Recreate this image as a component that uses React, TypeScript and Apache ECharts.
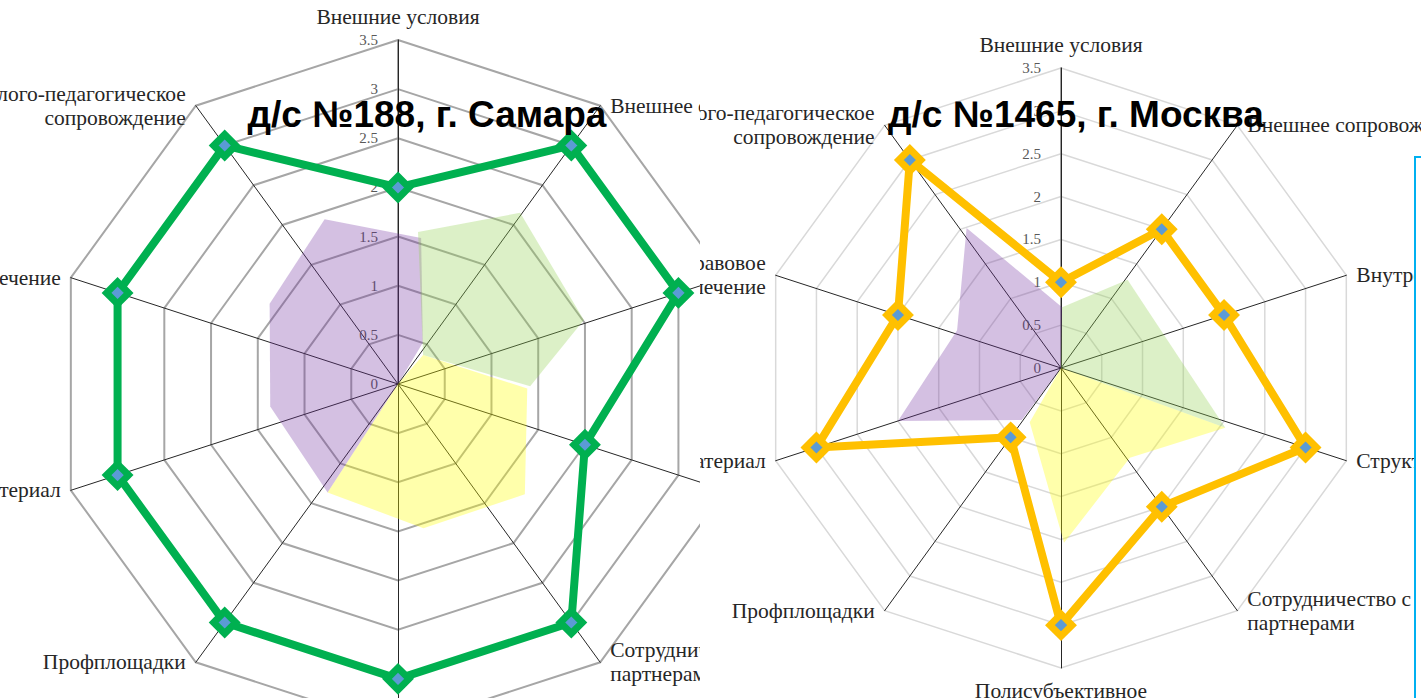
import React, { useEffect, useRef } from "react";
import * as echarts from "echarts";

// Categories listed clockwise starting from the top axis
const CATEGORIES = [
  "Внешние условия",
  "Внешнее сопровождение",
  "Внутренние условия",
  "Структура",
  "Сотрудничество с внешними партнерами",
  "Полисубъективное взаимодействие",
  "Профплощадки",
  "Методический материал",
  "Нормативно-правовое обеспечение",
  "Психолого-педагогическое сопровождение",
];

const LEFT_LABELS = [
  "Внешние условия",
  "Внешнее сопровождение",
  "Внутренние условия",
  "Структура",
  "Сотрудничество с внешними\nпартнерами",
  "Полисубъективное\nвзаимодействие",
  "Профплощадки",
  "Методический материал",
  "Нормативно-правовое обеспечение",
  "Психолого-педагогическое\nсопровождение",
];

const RIGHT_LABELS = [
  "Внешние условия",
  "Внешнее сопровождение",
  "Внутренние условия",
  "Структура",
  "Сотрудничество с внешними\nпартнерами",
  "Полисубъективное\nвзаимодействие",
  "Профплощадки",
  "Методический материал",
  "Нормативно-правовое\nобеспечение",
  "Психолого-педагогическое\nсопровождение",
];

const LEFT_VALUES = [2, 3, 3, 2, 3, 3, 3, 3, 3, 3];
const RIGHT_VALUES = [1, 2, 2, 3, 2, 3, 1, 3, 2, 3];

const AXIS_MIN = 0;
const AXIS_MAX = 3.5;
const AXIS_STEP = 0.5;

const LEFT_TITLE = "д/с №188, г. Самара";
const RIGHT_TITLE = "д/с №1465, г. Москва";

// Highlight zones: [value, angle in degrees clockwise from the top axis]
const LEFT_PURPLE = [[1.835, 336], [1.505, 9], [0.49, 31], [0, 0], [1.315, 213], [1.32, 260], [1.54, 302]];
const LEFT_GREEN = [[1.56, 7.5], [2.14, 35.5], [2.0, 71], [1.345, 91], [0.39, 41]];
const LEFT_YELLOW = [[0, 0], [0.39, 41], [1.316, 92], [1.71, 131], [1.49, 170], [1.315, 213]];
const RIGHT_PURPLE = [[1.97, 326], [0.71, 1], [0, 0], [0.76, 217], [2.0, 252], [1.29, 290]];
const RIGHT_GREEN = [[0.71, 1], [1.29, 37], [2.04, 110], [0, 0]];
const RIGHT_YELLOW = [[0, 0], [2.04, 110], [1.32, 142.5], [2.04, 179], [0.73, 210]];

// ECharts radar runs counter-clockwise; reorder clockwise lists
const toRadarOrder = <T,>(arr: T[]): T[] => [arr[0], ...arr.slice(1).reverse()];

const SERIF = '"Liberation Serif", "Times New Roman", serif';
const NAME_SIZE = 21.5;

function zone(points: number[][], color: string) {
  return {
    type: "custom",
    coordinateSystem: "polar",
    polarIndex: 0,
    silent: true,
    z: 1,
    data: [[0, 0]],
    renderItem: (_params: any, api: any) => {
      const pts = points.map((p) => api.coord([p[0], p[1]]));
      return { type: "polygon", shape: { points: pts }, style: { fill: color } };
    },
  };
}

function axisNames(labels: string[]) {
  const step = 360 / labels.length;
  return {
    type: "custom",
    coordinateSystem: "polar",
    polarIndex: 0,
    silent: true,
    z: 5,
    clip: false,
    data: labels.map((_n, i) => [AXIS_MAX, i * step]),
    renderItem: (params: any, api: any) => {
      const p = api.coord([api.value(0), api.value(1)]);
      const c = api.coord([0, 0]);
      const dx = p[0] - c[0];
      const dy = p[1] - c[1];
      let x = p[0];
      let y = p[1];
      let align = "center";
      let verticalAlign = "middle";
      if (Math.abs(dx) < 1) {
        if (dy < 0) {
          y -= 11;
          verticalAlign = "bottom";
        } else {
          y += 11;
          verticalAlign = "top";
        }
      } else {
        x += dx > 0 ? 10 : -10;
        align = dx > 0 ? "left" : "right";
      }
      return {
        type: "text",
        x,
        y,
        style: {
          text: labels[params.dataIndex],
          fill: "#262626",
          fontSize: NAME_SIZE,
          fontFamily: SERIF,
          lineHeight: 24,
          align,
          verticalAlign,
        },
      };
    },
  };
}

function buildOption(cfg: any) {
  return {
    animation: false,
    radar: {
      center: cfg.center,
      radius: cfg.radius,
      startAngle: 90,
      splitNumber: Math.round((AXIS_MAX - AXIS_MIN) / AXIS_STEP),
      shape: "polygon",
      indicator: toRadarOrder(CATEGORIES).map((n: string) => ({ name: n, min: AXIS_MIN, max: AXIS_MAX })),
      axisName: { show: false },
      axisLine: { lineStyle: { color: "#262626", width: 1 } },
      axisTick: { show: false },
      axisLabel: { show: false },
      splitLine: { lineStyle: { color: cfg.gridColor, width: cfg.gridWidth } },
      splitArea: { show: false },
    },
    polar: { center: cfg.center, radius: cfg.radius },
    angleAxis: { type: "value", min: 0, max: 360, startAngle: 90, clockwise: true, show: false },
    radiusAxis: {
      type: "value",
      min: AXIS_MIN,
      max: AXIS_MAX,
      interval: AXIS_STEP,
      axisLine: { show: true, lineStyle: { color: "#7f7f7f", width: 1.5 } },
      axisTick: { show: false },
      splitLine: { show: false },
      axisLabel: { color: "#595959", fontSize: 15, fontFamily: SERIF, margin: 20 },
    },
    series: [
      zone(cfg.purple, "rgba(112,48,160,0.3)"),
      zone(cfg.green, "rgba(146,208,80,0.32)"),
      zone(cfg.yellow, "rgba(255,255,0,0.33)"),
      axisNames(cfg.labels),
      {
        type: "radar",
        z: 3,
        symbol: "diamond",
        symbolSize: 22,
        lineStyle: { color: cfg.lineColor, width: 8 },
        itemStyle: { color: "#5b9bd5", borderColor: cfg.lineColor, borderWidth: 7 },
        data: [{ value: toRadarOrder(cfg.values), name: "Оценка" }],
      },
    ],
    graphic: [
      {
        type: "text",
        x: cfg.titleX,
        y: 114,
        z: 100,
        style: {
          text: cfg.title,
          fill: "#000",
          fontSize: 37,
          fontWeight: "bold",
          fontFamily: '"Liberation Sans", Arial, sans-serif',
          align: "center",
          verticalAlign: "middle",
        },
      },
    ],
  };
}

function Panel({ style, option }: { style: React.CSSProperties; option: any }) {
  const ref = useRef<HTMLDivElement>(null);
  useEffect(() => {
    if (!ref.current) return;
    const chart = echarts.init(ref.current, undefined, { renderer: "svg" });
    chart.setOption(option);
    return () => chart.dispose();
  }, []);
  return <div ref={ref} style={style} />;
}

export default function App() {
  const left = buildOption({
    center: [398, 384],
    radius: 344,
    labels: LEFT_LABELS,
    values: LEFT_VALUES,
    gridColor: "#a6a6a6",
    gridWidth: 2,
    lineColor: "#00b050",
    purple: LEFT_PURPLE,
    green: LEFT_GREEN,
    yellow: LEFT_YELLOW,
    title: LEFT_TITLE,
    titleX: 427,
  });
  const right = buildOption({
    center: [361, 368],
    radius: 300,
    labels: RIGHT_LABELS,
    values: RIGHT_VALUES,
    gridColor: "#d9d9d9",
    gridWidth: 1.5,
    lineColor: "#ffc000",
    purple: RIGHT_PURPLE,
    green: RIGHT_GREEN,
    yellow: RIGHT_YELLOW,
    title: RIGHT_TITLE,
    titleX: 376,
  });
  return (
    <div>
      <Panel
        option={left}
        style={{ position: "absolute", left: 0, top: 0, width: 700, height: 698, overflow: "hidden", background: "#fff" }}
      />
      <Panel
        option={right}
        style={{ position: "absolute", left: 700, top: 0, width: 721, height: 698, overflow: "hidden", background: "#fff" }}
      />
      <div
        style={{
          position: "absolute",
          left: 1414,
          top: 156,
          width: 40,
          height: 600,
          borderLeft: "2px solid #00b0f0",
          borderTop: "2px solid #00b0f0",
          background: "#fff",
        }}
      />
    </div>
  );
}
